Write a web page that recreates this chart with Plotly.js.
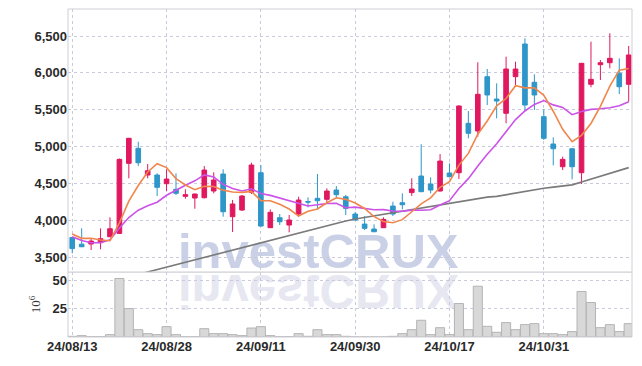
<!DOCTYPE html>
<html>
<head>
<meta charset="utf-8">
<script src="https://cdn.plot.ly/plotly-3.0.1.min.js"></script>
<style>
  html, body { margin: 0; padding: 0; background: #ffffff; }
  #wrap { position: relative; width: 642px; height: 366px; overflow: hidden; }
  .wm { position: absolute; left: 178px; font-family: "Liberation Sans", Arial, sans-serif; font-weight: bold;
        font-size: 49px; line-height: 49px; white-space: nowrap; letter-spacing: 0px; }
  #wm1 { top: 227px; color: #cad1e7; }
  #wm2 { top: 228px; color: #e6e7f1; transform-origin: 0 44px; transform: scaleY(-1); }
  #chart { position: absolute; left: 0; top: 0; width: 642px; height: 366px; }
</style>
</head>
<body>
<div id="wrap">
  <div class="wm" id="wm2">investCRUX</div>
  <div class="wm" id="wm1">investCRUX</div>
  <div id="chart"></div>
</div>
<script>
// trading days (category axis)
const days = ["24/08/13","24/08/14","24/08/16","24/08/19","24/08/20","24/08/21","24/08/22","24/08/23","24/08/26","24/08/27",
  "24/08/28","24/08/29","24/08/30","24/09/02","24/09/03","24/09/04","24/09/05","24/09/06","24/09/09","24/09/10",
  "24/09/11","24/09/12","24/09/13","24/09/19","24/09/20","24/09/23","24/09/24","24/09/25","24/09/26","24/09/27",
  "24/09/30","24/10/02","24/10/04","24/10/07","24/10/08","24/10/10","24/10/11","24/10/14","24/10/15","24/10/16",
  "24/10/17","24/10/18","24/10/21","24/10/22","24/10/23","24/10/24","24/10/25","24/10/28","24/10/29","24/10/30",
  "24/10/31","24/11/01","24/11/04","24/11/05","24/11/06","24/11/07","24/11/08","24/11/11","24/11/12","24/11/13"];

const tickDays = ["24/08/13","24/08/28","24/09/11","24/09/30","24/10/17","24/10/31"];

const openP = [3770,3680,3682,3700,3780,3826,4775,4978,4617,4617,
  4499,4423,4328,4305,4309,4400,4630,4052,4142,4383,
  4648,3903,4038,3939,4088,4257,4301,4287,4413,4322,
  4088,3952,3885,3903,4196,4241,4378,4603,4495,4400,
  4644,4648,5317,5213,5949,5646,5453,5949,6392,5873,
  5407,5037,4729,4973,4648,5846,6111,6138,5995,5846];
const highP = [3780,3895,3759,3894,4043,4840,5120,5068,4766,4640,
  4694,4640,4423,4365,4738,4653,4694,4278,4346,4783,
  4752,4151,4088,4075,4322,4314,4630,4436,4467,4346,
  4119,4061,3949,4043,4255,4369,4572,5033,4585,4901,
  4775,5560,5484,6144,6053,5859,6220,6152,6469,5981,
  5507,5127,4865,4980,6135,6423,6175,6537,6198,6365];
const lowP = [3556,3640,3601,3610,3775,3820,4572,4738,4572,4332,
  4400,4346,4296,4160,4300,4369,4052,3844,4130,4359,
  3920,3900,3939,3840,4052,4179,4152,4224,4301,4075,
  3997,3871,3845,3900,4061,4152,4332,4385,4369,4395,
  4590,4563,5114,5136,5565,5385,5317,5813,5484,5498,
  5091,4748,4684,4558,4495,5805,5904,6062,5714,5610];
const closeP = [3620,3645,3722,3754,3889,4829,5114,4783,4675,4450,
  4562,4369,4350,4359,4684,4549,4119,4224,4332,4752,
  3925,4111,3984,4007,4278,4250,4268,4400,4350,4165,
  4007,3894,3848,4016,4088,4214,4427,4391,4413,4806,
  4594,5552,5182,5710,5701,5619,6053,6053,5565,5701,
  5114,4973,4829,4729,6130,5913,6138,6198,5813,6243];

// moving averages
const ma5 = [3817,3759,3759,3736,3726,3968,4262,4474,4658,4770,
  4717,4568,4481,4418,4465,4462,4412,4387,4382,4395,
  4270,4269,4221,4156,4061,4126,4157,4241,4309,4287,
  4238,4163,4053,3986,3971,4012,4119,4227,4307,4450,
  4526,4751,4909,5169,5348,5553,5653,5827,5798,5798,
  5697,5481,5236,5069,5155,5315,5548,5822,6038,6061];
const ma10 = [3780,3730,3700,3700,3740,3900,4040,4140,4200,4248,
  4342,4415,4478,4538,4618,4590,4490,4434,4400,4430,
  4366,4341,4304,4269,4228,4198,4213,4231,4233,4174,
  4182,4160,4147,4148,4129,4125,4141,4140,4146,4210,
  4269,4435,4568,4738,4899,5040,5202,5368,5484,5573,
  5625,5567,5532,5434,5477,5506,5515,5529,5554,5608];
const ma60 = [null,null,null,null,null,null,null,3270,3303,3336,
  3370,3403,3436,3470,3503,3536,3570,3603,3636,3670,
  3703,3735,3767,3800,3832,3865,3897,3930,3962,3994,
  4020,4041,4063,4084,4105,4127,4148,4170,4191,4212,
  4233,4254,4275,4296,4317,4327,4351,4375,4399,4423,
  4438,4453,4468,4483,4522,4561,4600,4639,4678,4717];

// volume in millions
const volume = [0.6,1.2,0.3,0.3,2.1,52.1,25.3,6.5,3.0,2.1,
  9.2,2.1,0.3,0.3,7.4,3.0,3.0,2.1,1.2,8.0,
  9.2,1.2,0.3,0.3,3.0,0.6,6.5,2.1,2.1,0.6,
  0.1,0.1,0.1,0.1,0.6,3.0,6.5,14.9,2.1,8.3,
  2.1,29.8,6.5,45.2,9.5,4.2,12.8,6.5,11.0,11.9,
  3.0,3.0,2.1,4.8,40.5,30.7,8.3,11.0,4.8,11.9];

const priceTicks = [3500,4000,4500,5000,5500,6000,6500];
const volTicks = [25,50];

const RED = "#e0185f", BLUE = "#2e96c8";
const tickFont = {family: "Liberation Sans, Arial, sans-serif", size: 13, color: "#2a2a2a", weight: "bold"};
const gridC = "#c9cbdd";

const traces = [
  {
    type: "bar", x: days, y: volume, xaxis: "x", yaxis: "y2",
    marker: {color: "#d8d8d8", line: {color: "#b4b4b4", width: 1}},
    hoverinfo: "skip"
  },
  {
    type: "scatter", mode: "lines", x: days, y: ma60, xaxis: "x", yaxis: "y",
    line: {color: "#7a7a7a", width: 1.6}, connectgaps: false, hoverinfo: "skip"
  },
  {
    type: "scatter", mode: "lines", x: days, y: ma10, xaxis: "x", yaxis: "y",
    line: {color: "#cc52e8", width: 1.6}, hoverinfo: "skip"
  },
  {
    type: "scatter", mode: "lines", x: days, y: ma5, xaxis: "x", yaxis: "y",
    line: {color: "#f0864c", width: 1.6}, hoverinfo: "skip"
  },
  {
    type: "candlestick", x: days, open: openP, high: highP, low: lowP, close: closeP,
    xaxis: "x", yaxis: "y", whiskerwidth: 0,
    increasing: {line: {color: RED, width: 1}, fillcolor: RED},
    decreasing: {line: {color: BLUE, width: 1}, fillcolor: BLUE},
    hoverinfo: "skip"
  }
];

const split = 0.198;
const layout = {
  width: 642, height: 366,
  margin: {l: 68, r: 10, t: 9, b: 29, pad: 0},
  paper_bgcolor: "rgba(0,0,0,0)", plot_bgcolor: "rgba(0,0,0,0)",
  showlegend: false, hovermode: false, bargap: 0.04,
  xaxis: {
    type: "category", range: [-0.45, 59.35], anchor: "y2",
    tickvals: tickDays, ticktext: tickDays, tickfont: tickFont, ticks: "",
    showgrid: true, gridcolor: gridC, griddash: "dot", gridwidth: 1,
    zeroline: false, showline: false, rangeslider: {visible: false}, fixedrange: true
  },
  yaxis: {
    domain: [split, 1], range: [3302, 6866], tickvals: priceTicks, tickformat: ",d",
    tickfont: tickFont, ticks: "", showgrid: true, gridcolor: gridC, griddash: "dot",
    zeroline: false, showline: false, fixedrange: true
  },
  yaxis2: {
    domain: [0, split], range: [0, 57.8], tickvals: volTicks, tickfont: tickFont, ticks: "",
    showgrid: true, gridcolor: gridC, griddash: "dot", zeroline: false, showline: false,
    title: {text: "10<sup>6</sup>", font: {family: "Liberation Serif, serif", size: 13, color: "#333333"}, standoff: 8},
    fixedrange: true
  },
  shapes: [
    {type: "rect", xref: "paper", yref: "paper", x0: 0, x1: 1, y0: 0, y1: 1,
     line: {color: "#cfcfd6", width: 1}, fillcolor: "rgba(0,0,0,0)", layer: "above"},
    {type: "line", xref: "paper", yref: "paper", x0: 0, x1: 1, y0: split, y1: split,
     line: {color: "#cfcfd6", width: 1.2}, layer: "above"}
  ]
};

Plotly.newPlot("chart", traces, layout, {displayModeBar: false, staticPlot: true});
</script>
</body>
</html>
